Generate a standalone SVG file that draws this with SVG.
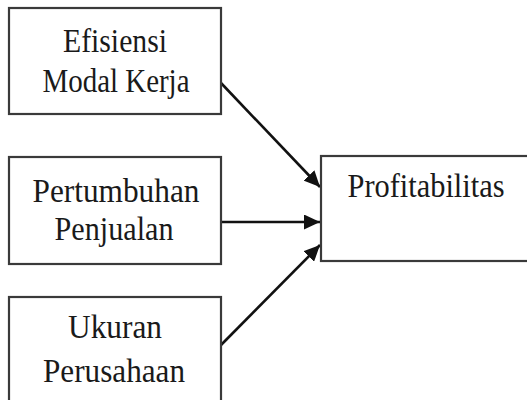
<svg xmlns="http://www.w3.org/2000/svg" width="527" height="400" viewBox="0 0 527 400">
<defs>
<style>
.box{fill:#fff;stroke:#3a3a3a;stroke-width:2.2}
.t{font-family:"Liberation Serif","Times New Roman",serif;font-size:33px;fill:#1a1a1a;text-anchor:middle}
.c{stroke:#111;stroke-width:2.6;fill:none}
</style>
<marker id="ah" markerUnits="userSpaceOnUse" markerWidth="17" markerHeight="15" refX="16" refY="7.5" orient="auto">
<path d="M0,0 L16,7.5 L0,15 z" fill="#111"/>
</marker>
</defs>
<rect width="527" height="400" fill="#fff"/>
<g id="connectors">
<line class="c" x1="221" y1="83" x2="320" y2="187" marker-end="url(#ah)"/>
<line class="c" x1="221" y1="222" x2="320" y2="222" marker-end="url(#ah)"/>
<line class="c" x1="221" y1="345" x2="320" y2="245" marker-end="url(#ah)"/>
</g>
<g id="n1">
<rect class="box" x="9" y="8" width="212" height="106"/>
<text class="t" x="115" y="52" textLength="104" lengthAdjust="spacingAndGlyphs">Efisiensi</text>
<text class="t" x="116" y="92" textLength="147" lengthAdjust="spacingAndGlyphs">Modal Kerja</text>
</g>
<g id="n2">
<rect class="box" x="9" y="157" width="212" height="107"/>
<text class="t" x="116" y="202" textLength="167" lengthAdjust="spacingAndGlyphs">Pertumbuhan</text>
<text class="t" x="114" y="240" textLength="119" lengthAdjust="spacingAndGlyphs">Penjualan</text>
</g>
<g id="n3">
<rect class="box" x="9" y="297" width="212" height="120"/>
<text class="t" x="115" y="338" textLength="94" lengthAdjust="spacingAndGlyphs">Ukuran</text>
<text class="t" x="114" y="382" textLength="142" lengthAdjust="spacingAndGlyphs">Perusahaan</text>
</g>
<g id="n4">
<rect class="box" x="321" y="156" width="220" height="105"/>
<text class="t" x="426" y="197" textLength="157" lengthAdjust="spacingAndGlyphs">Profitabilitas</text>
</g>
</svg>
